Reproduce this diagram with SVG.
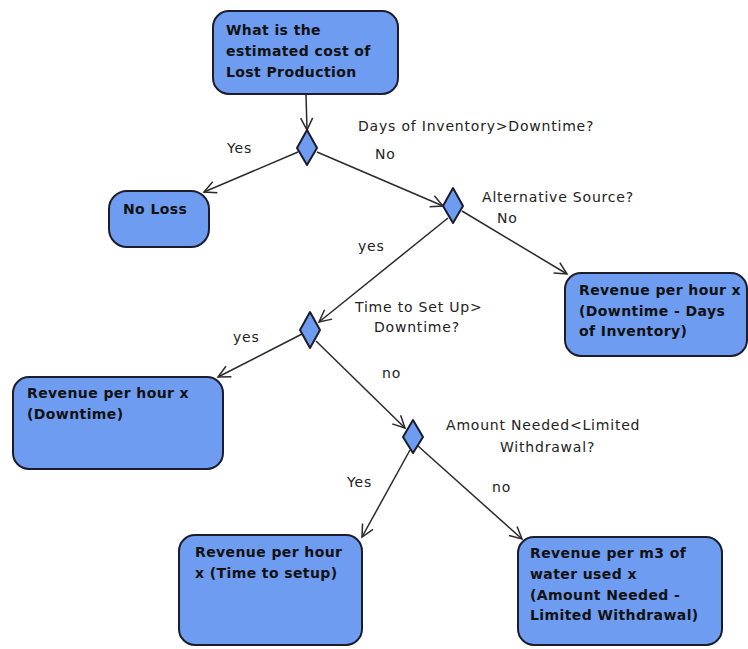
<svg xmlns="http://www.w3.org/2000/svg" width="748" height="649" viewBox="0 0 748 649">
  <style>
    .box { fill: #6d9cf0; stroke: #1c1c2a; stroke-width: 2; }
    .dec { fill: #6d9cf0; stroke: #1c1c2a; stroke-width: 2; stroke-linejoin: round; }
    .t { font-family: "DejaVu Sans", "Liberation Sans", sans-serif; font-size: 14px; letter-spacing: 0.4px; font-weight: bold; fill: #111; }
    .lbl { font-family: "DejaVu Sans", "Liberation Sans", sans-serif; font-size: 14px; letter-spacing: 0.8px; fill: #222; }
    .edge { fill: none; stroke: #2a2a2a; stroke-width: 1.5; marker-end: url(#open); }
  </style>
  <defs>
    <marker id="open" markerWidth="16" markerHeight="16" refX="13" refY="7" orient="auto" markerUnits="userSpaceOnUse">
      <path d="M1,1 L13,7 L1,13" fill="none" stroke="#2a2a2a" stroke-width="1.5"/>
    </marker>
  </defs>

  <!-- connectors -->
  <g id="edges">
    <line class="edge" x1="306" y1="94" x2="307" y2="130"/>
    <line class="edge" x1="298" y1="152" x2="204" y2="192"/>
    <line class="edge" x1="317" y1="152" x2="443" y2="206"/>
    <line class="edge" x1="462" y1="211" x2="567" y2="274"/>
    <line class="edge" x1="448" y1="218" x2="319" y2="322"/>
    <line class="edge" x1="302" y1="334" x2="218" y2="377"/>
    <line class="edge" x1="316" y1="341" x2="405" y2="428"/>
    <line class="edge" x1="410" y1="450" x2="362" y2="537"/>
    <line class="edge" x1="418" y1="446" x2="522" y2="539"/>
  </g>

  <!-- decision diamonds and their labels -->
  <g id="d1">
    <polygon class="dec" points="307,130 317,148 307,165 297,148"/>
    <text class="lbl" x="358" y="131">Days of Inventory&gt;Downtime?</text>
    <text class="lbl" x="227" y="153">Yes</text>
    <text class="lbl" x="375" y="159">No</text>
  </g>
  <g id="d2">
    <polygon class="dec" points="453,188 463,206 453,223 443,206"/>
    <text class="lbl" x="482" y="202">Alternative Source?</text>
    <text class="lbl" x="497" y="223">No</text>
    <text class="lbl" x="358" y="251">yes</text>
  </g>
  <g id="d3">
    <polygon class="dec" points="310,312 320,330 310,348 300,330"/>
    <text class="lbl" x="355" y="312">Time to Set Up&gt;</text>
    <text class="lbl" x="374" y="332">Downtime?</text>
    <text class="lbl" x="233" y="342">yes</text>
    <text class="lbl" x="382" y="378">no</text>
  </g>
  <g id="d4">
    <polygon class="dec" points="413,420 423,437 413,453 403,437"/>
    <text class="lbl" x="446" y="430">Amount Needed&lt;Limited</text>
    <text class="lbl" x="500" y="452">Withdrawal?</text>
    <text class="lbl" x="347" y="487">Yes</text>
    <text class="lbl" x="492" y="492">no</text>
  </g>

  <!-- outcome boxes -->
  <g id="start">
    <rect class="box" x="213" y="11" width="185" height="83" rx="16"/>
    <text class="t" x="226" y="35">What is the</text>
    <text class="t" x="226" y="56">estimated cost of</text>
    <text class="t" x="226" y="77">Lost Production</text>
  </g>
  <g id="noloss">
    <rect class="box" x="109" y="191" width="100" height="56" rx="18"/>
    <text class="t" x="123" y="214">No Loss</text>
  </g>
  <g id="days">
    <rect class="box" x="565" y="273" width="182" height="83" rx="16"/>
    <text class="t" x="579" y="295">Revenue per hour x</text>
    <text class="t" x="579" y="316">(Downtime - Days</text>
    <text class="t" x="579" y="336">of Inventory)</text>
  </g>
  <g id="downtime">
    <rect class="box" x="13" y="377" width="210" height="92" rx="16"/>
    <text class="t" x="27" y="398">Revenue per hour x</text>
    <text class="t" x="27" y="419">(Downtime)</text>
  </g>
  <g id="setup">
    <rect class="box" x="179" y="535" width="183" height="110" rx="16"/>
    <text class="t" x="195" y="557">Revenue per hour</text>
    <text class="t" x="195" y="578">x (Time to setup)</text>
  </g>
  <g id="water">
    <rect class="box" x="518" y="537" width="204" height="108" rx="16"/>
    <text class="t" x="530" y="558">Revenue per m3 of</text>
    <text class="t" x="530" y="579">water used x</text>
    <text class="t" x="530" y="600">(Amount Needed -</text>
    <text class="t" x="530" y="620">Limited Withdrawal)</text>
  </g>
</svg>
